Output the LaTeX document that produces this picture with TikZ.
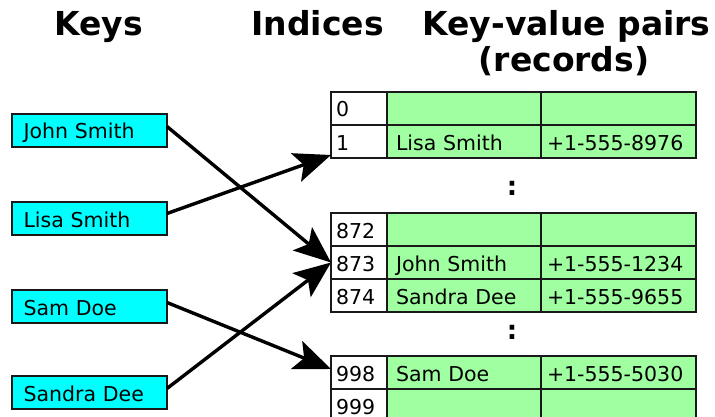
\documentclass[tikz,border=0pt]{standalone}
\usepackage{fontspec}
\setmainfont{DejaVu Sans}
\usetikzlibrary{arrows.meta}
\definecolor{keycyan}{RGB}{0,255,255}
\definecolor{recgreen}{RGB}{160,255,160}
\definecolor{edgecol}{RGB}{25,25,25}
\begin{document}
\begin{tikzpicture}[x=1pt,y=-1pt,
  cellbase/.style={draw=edgecol, line width=2pt, minimum height=33pt, inner ysep=0pt, outer sep=0pt,
    text height=17pt, text depth=0pt, align=left, anchor=north west, font=\fontsize{20.5}{24}\selectfont},
  keybox/.style={cellbase, fill=keycyan, text width=132pt, inner xsep=11.5pt},
  idx/.style={cellbase, fill=white, text width=46pt, inner xsep=5pt},
  namec/.style={cellbase, fill=recgreen, text width=136pt, inner xsep=9pt},
  phonec/.style={cellbase, fill=recgreen, text width=143pt, inner xsep=6pt},
  header/.style={font=\fontsize{33}{36}\selectfont\bfseries, anchor=base, inner sep=0pt},
  vdots/.style={font=\fontsize{26}{26}\selectfont\bfseries, inner sep=0pt},
  arr/.style={line width=3.4pt, -{Stealth[length=37pt,width=30pt,inset=8pt]}}
]
\useasboundingbox (0,0) rectangle (715,417);

% headers
\node[header] (hkeys) at (98.5,36) {Keys};
\node[header] (hind) at (317.5,36) {Indices};
\node[header] (hkv) at (566.5,36) {Key-value pairs};
\node[header] (hrec) at (564,72) {(records)};

% keys
\node[keybox] (js) at (12,114) {John Smith};
\node[keybox] (ls) at (12,202) {Lisa Smith};
\node[keybox] (sd) at (12,290) {Sam Doe};
\node[keybox] (sde) at (12,376) {Sandra Dee};

% group 1
\node[idx] (i0) at (331,92) {0};
\node[namec] (n0) at (387,92) {};
\node[phonec] (p0) at (541,92) {};
\node[idx] (i1) at (331,125) {1};
\node[namec] (n1) at (387,125) {Lisa Smith};
\node[phonec] (p1) at (541,125) {+1-555-8976};

\node[vdots] (d1) at (512,188) {:};

% group 2
\node[idx] (i872) at (331,213) {872};
\node[namec] (n872) at (387,213) {};
\node[phonec] (p872) at (541,213) {};
\node[idx] (i873) at (331,246) {873};
\node[namec] (n873) at (387,246) {John Smith};
\node[phonec] (p873) at (541,246) {+1-555-1234};
\node[idx] (i874) at (331,279) {874};
\node[namec] (n874) at (387,279) {Sandra Dee};
\node[phonec] (p874) at (541,279) {+1-555-9655};

\node[vdots] (d2) at (512,332) {:};

% group 3
\node[idx] (i998) at (331,356) {998};
\node[namec] (n998) at (387,356) {Sam Doe};
\node[phonec] (p998) at (541,356) {+1-555-5030};
\node[idx] (i999) at (331,389) {999};
\node[namec] (n999) at (387,389) {};
\node[phonec] (p999) at (541,389) {};

% arrows
\draw[arr] ([yshift=4pt]js.east) -- (i873.west);
\draw[arr] ([yshift=5pt]ls.east) -- ([yshift=3pt]i1.south west);
\draw[arr] ([yshift=4pt]sd.east) -- ([yshift=3.5pt]i998.west);
\draw[arr] ([yshift=4pt]sde.east) -- (i873.west);
\end{tikzpicture}
\end{document}
